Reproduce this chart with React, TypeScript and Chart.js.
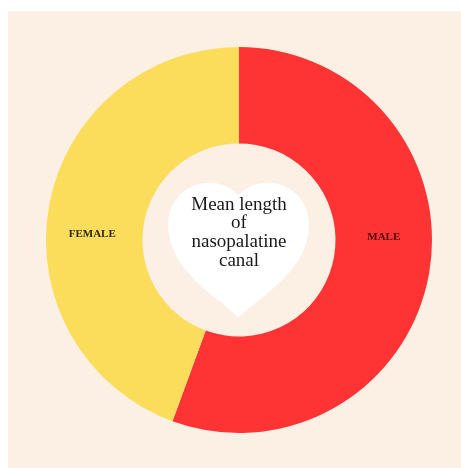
import React, { useEffect, useRef } from "react";
import { Chart, registerables } from "chart.js";

Chart.register(...registerables);

const categories = ["MALE", "FEMALE"];
const values = [55.6, 44.4];
const centerLines = ["Mean length", "of", "nasopalatine", "canal"];

const sliceColors = ["#FE3434", "#FCDC5B"];
const labelColors = ["#4A0C0E", "#2E2510"];
const bgColor = "#FCF0E4";

const decorPlugin = {
  id: "decor",
  afterDatasetsDraw(chart: any) {
    const ctx = chart.ctx as CanvasRenderingContext2D;
    const meta = chart.getDatasetMeta(0);
    if (!meta.data.length) return;
    const a: any = meta.data[0];
    const cx = a.x;
    const cy = a.y;
    const inner = a.innerRadius;
    const outer = a.outerRadius;
    const s = inner / 96;

    // heart
    const hx = cx - 0.5 * s;
    const top = cy - 57 * s;
    const tip = cy + 77 * s;
    const r = 40.7 * s;
    const d = 29.3 * s;
    const lobeY = top + r;
    const ang = Math.atan2(Math.sqrt(r * r - d * d), d);
    ctx.save();
    ctx.fillStyle = "#FFFFFF";
    ctx.beginPath();
    ctx.moveTo(hx, tip);
    ctx.bezierCurveTo(hx - 26 * s, tip - 24 * s, hx - d - r, lobeY + 46 * s, hx - d - r, lobeY);
    ctx.arc(hx - d, lobeY, r, Math.PI, 2 * Math.PI - ang, false);
    ctx.arc(hx + d, lobeY, r, Math.PI + ang, 2 * Math.PI, false);
    ctx.bezierCurveTo(hx + d + r, lobeY + 46 * s, hx + 26 * s, tip - 24 * s, hx, tip);
    ctx.closePath();
    ctx.fill();

    // center text
    ctx.fillStyle = "#1A1A1A";
    ctx.font = "19px 'Liberation Serif', serif";
    ctx.textAlign = "center";
    ctx.textBaseline = "middle";
    const offs = [-35, -16.5, 2, 20.5];
    centerLines.forEach((t, i) => {
      ctx.fillText(t, cx, cy + offs[i] * s);
    });

    // slice labels placed horizontally at mid ring
    const mid = (inner + outer) / 2;
    ctx.font = "bold 11px 'Liberation Serif', serif";
    categories.forEach((c, i) => {
      ctx.fillStyle = labelColors[i];
      const x = i === 0 ? cx + mid : cx - mid - 2;
      const y = i === 0 ? cy - 3 : cy - 6;
      ctx.fillText(c, x, y);
    });
    ctx.restore();
  },
};

export default function App() {
  const ref = useRef<HTMLCanvasElement | null>(null);
  useEffect(() => {
    if (!ref.current) return;
    const chart = new Chart(ref.current, {
      type: "doughnut",
      data: {
        labels: categories,
        datasets: [
          {
            data: values,
            backgroundColor: sliceColors,
            borderWidth: 0,
            hoverOffset: 0,
          },
        ],
      },
      options: {
        responsive: false,
        animation: false,
        cutout: "50%",
        layout: { padding: { left: 38, right: 29, top: 36, bottom: 35 } },
        plugins: {
          legend: { display: false },
          tooltip: { enabled: false },
          title: { display: false },
        },
      },
      plugins: [decorPlugin],
    });
    return () => chart.destroy();
  }, []);
  return (
    <div
      style={{
        position: "fixed",
        left: 8,
        top: 11,
        width: 453,
        height: 457,
        background: bgColor,
      }}
    >
      <canvas ref={ref} width={453} height={457} style={{ display: "block" }} />
    </div>
  );
}
